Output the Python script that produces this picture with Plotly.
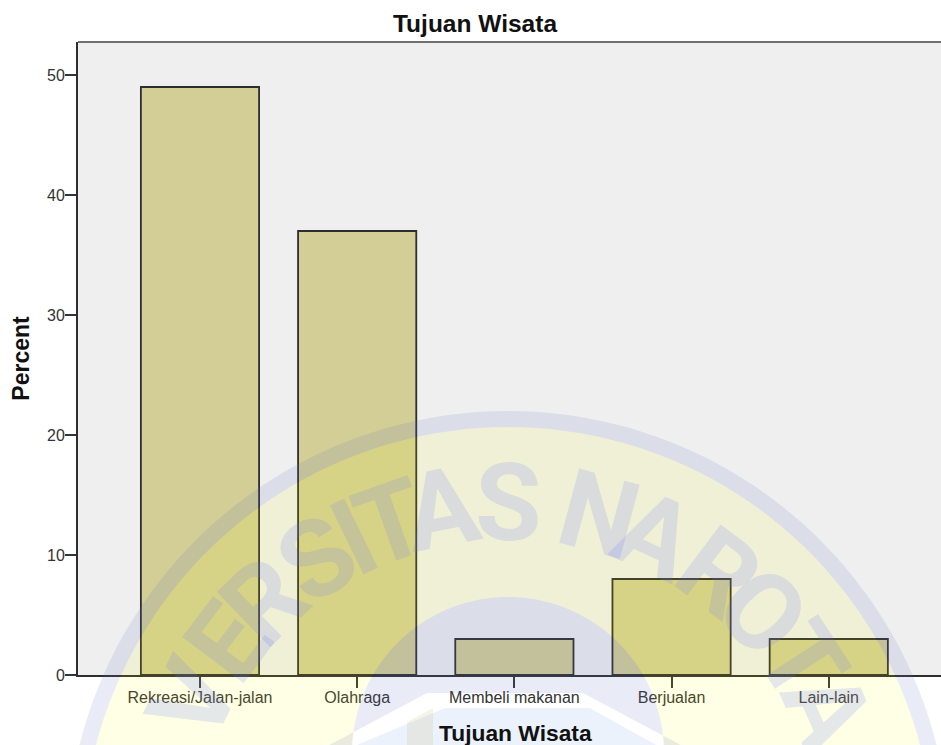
import numpy as np
import plotly.graph_objects as go

categories = ["Rekreasi/Jalan-jalan", "Olahraga", "Membeli makanan", "Berjualan", "Lain-lain"]
percent = [49, 37, 3, 8, 3]
y_ticks = [0, 10, 20, 30, 40, 50]

W, H = 941, 745
L, R, T, B = 78, 941, 42, 675   # plot edges in window pixels

def px(x): return (x - L) / (R - L)
def py(y): return (B - y) / (B - T)

def poly(points):
    return "M" + " L".join(f"{px(x):.5f},{py(y):.5f}" for x, y in points) + " Z"

def circle(cx, cy, r, n=180):
    t = np.linspace(0, 2 * np.pi, n, endpoint=False)
    return poly(list(zip(cx + r * np.cos(t), cy + r * np.sin(t))))

CX, CY = 508, 853
YEL = "rgba(255,255,0,0.10)"
BLU = "rgba(100,110,190,0.14)"
LBLU = "rgba(90,150,230,0.12)"
BEI = "rgba(200,170,90,0.14)"
pent = [(427, 693), (583, 693), (690, 750), (690, 800), (320, 800), (320, 750)]
inner_pent = [(445, 708), (590, 708), (665, 750), (665, 800), (345, 800), (345, 750)]
disc = circle(508, 753, 156)

def shape(path, fill):
    return dict(type="path", xref="paper", yref="paper", path=path, fillcolor=fill,
                line=dict(width=0), layer="above")

shapes = [
    shape(circle(CX, CY, 426) + " " + disc, YEL),
    shape(circle(CX, CY, 442) + " " + circle(CX, CY, 426), BLU),
    shape(disc + " " + poly(pent), BLU),
    shape(poly(inner_pent), LBLU),
    shape(poly([(407, 722), (433, 708), (433, 760), (407, 760)]), BEI),
    dict(type="line", xref="paper", yref="paper", x0=0, x1=1, y0=1, y1=1,
         line=dict(color="#707070", width=2), layer="above"),
]

letters = [("V", -64), ("E", -53), ("R", -44), ("S", -33), ("I", -26), ("T", -19.5),
           ("A", -11), ("S", 0), ("N", 15), ("A", 25), ("R", 37), ("O", 46.5), ("T", 57),
           ("A", 66)]
annotations = []
for ch, ang in letters:
    a = np.radians(ang)
    r = 350
    annotations.append(dict(
        text=f"<b>{ch}</b>", showarrow=False, xref="paper", yref="paper",
        x=px(CX + r * np.sin(a)), y=py(CY - r * np.cos(a)),
        xanchor="center", yanchor="middle", textangle=ang, opacity=0.16,
        font=dict(family="Roboto", size=108, color="rgb(100,115,255)"),
    ))
annotations.append(dict(
    text="<b>Tujuan Wisata</b>", showarrow=False, xref="paper", yref="paper",
    x=px(515), y=py(733), xanchor="center", yanchor="middle",
    font=dict(size=22.8, color="#111111"),
))

fig = go.Figure(go.Bar(
    x=categories, y=percent, width=0.752,
    marker=dict(color="#d3ce96", line=dict(color="#2e2e2e", width=1.8)),
))

fig.update_layout(
    width=W, height=H, autosize=False,
    margin=dict(l=L, r=0, t=T, b=745 - B, pad=0),
    paper_bgcolor="white", plot_bgcolor="#efefef",
    showlegend=False, shapes=shapes, annotations=annotations,
    font=dict(family="Liberation Sans", color="#222222"),
    title=dict(text="<b>Tujuan Wisata</b>", x=475 / W, y=1 - 23 / H, xanchor="center", yanchor="middle",
               font=dict(size=24.5, color="#111111")),
    xaxis=dict(type="category", range=[-0.776, 4.714], showgrid=False, zeroline=False,
               showline=True, linecolor="#2e2e2e", linewidth=2,
               ticks="outside", ticklen=11, tickwidth=1.5, tickcolor="#333333",
               tickfont=dict(size=16, color="#333333"), ticklabelstandoff=-4),
    yaxis=dict(range=[0, 52.75], tickvals=y_ticks, showgrid=False, zeroline=False,
               showline=True, linecolor="#2e2e2e", linewidth=2,
               ticks="outside", ticklen=11, tickwidth=1.5, tickcolor="#333333",
               tickfont=dict(size=16, color="#333333"), ticklabelstandoff=-3,
               title=dict(text="<b>Percent</b>", font=dict(size=23, color="#111111"), standoff=11)),
)

fig.write_html("out.html", config=dict(displayModeBar=False),
               post_script="document.body.style.margin='0';")
